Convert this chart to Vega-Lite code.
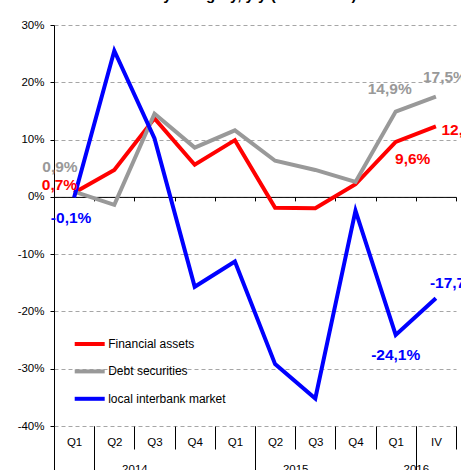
{
  "$schema": "https://vega.github.io/schema/vega-lite/v6.json",
  "width": 402,
  "height": 401,
  "autosize": {"type": "none"},
  "padding": {"left": 54, "top": 25, "right": 5, "bottom": 44},
  "background": "white",
  "title": {"text": "Growth by category, y/y (in % terms)", "fontSize": 15, "fontWeight": "bold", "font": "Liberation Sans", "color": "#000", "anchor": "middle", "frame": "group", "offset": 4, "baseline": "alphabetic", "dx": -28},
  "config": {"view": {"stroke": null}},
  "data": {"values": [
    {"period": "2014-Q1", "series": "Financial assets", "value": 0.7, "label": "0,7%"},
    {"period": "2014-Q2", "series": "Financial assets", "value": 4.7},
    {"period": "2014-Q3", "series": "Financial assets", "value": 13.7},
    {"period": "2014-Q4", "series": "Financial assets", "value": 5.6},
    {"period": "2015-Q1", "series": "Financial assets", "value": 9.9},
    {"period": "2015-Q2", "series": "Financial assets", "value": -1.9},
    {"period": "2015-Q3", "series": "Financial assets", "value": -2.0},
    {"period": "2015-Q4", "series": "Financial assets", "value": 2.2},
    {"period": "2016-Q1", "series": "Financial assets", "value": 9.6, "label": "9,6%"},
    {"period": "2016-IV", "series": "Financial assets", "value": 12.3, "label": "12,3%"},
    {"period": "2014-Q1", "series": "Debt securities", "value": 0.9, "label": "0,9%"},
    {"period": "2014-Q2", "series": "Debt securities", "value": -1.4},
    {"period": "2014-Q3", "series": "Debt securities", "value": 14.5},
    {"period": "2014-Q4", "series": "Debt securities", "value": 8.6},
    {"period": "2015-Q1", "series": "Debt securities", "value": 11.6},
    {"period": "2015-Q2", "series": "Debt securities", "value": 6.3},
    {"period": "2015-Q3", "series": "Debt securities", "value": 4.7},
    {"period": "2015-Q4", "series": "Debt securities", "value": 2.6},
    {"period": "2016-Q1", "series": "Debt securities", "value": 14.9, "label": "14,9%"},
    {"period": "2016-IV", "series": "Debt securities", "value": 17.5, "label": "17,5%"},
    {"period": "2014-Q1", "series": "local interbank market", "value": -0.1, "label": "-0,1%"},
    {"period": "2014-Q2", "series": "local interbank market", "value": 25.5},
    {"period": "2014-Q3", "series": "local interbank market", "value": 10.2},
    {"period": "2014-Q4", "series": "local interbank market", "value": -15.7},
    {"period": "2015-Q1", "series": "local interbank market", "value": -11.3},
    {"period": "2015-Q2", "series": "local interbank market", "value": -29.2},
    {"period": "2015-Q3", "series": "local interbank market", "value": -35.2},
    {"period": "2015-Q4", "series": "local interbank market", "value": -2.4},
    {"period": "2016-Q1", "series": "local interbank market", "value": -24.1, "label": "-24,1%"},
    {"period": "2016-IV", "series": "local interbank market", "value": -17.7, "label": "-17,7%"}
  ]},
  "resolve": {"axis": {"x": "independent", "y": "independent"}},
  "layer": [
    {
      "mark": {"type": "line", "strokeWidth": 4, "strokeJoin": "miter", "strokeCap": "butt"},
      "encoding": {
        "x": {"field": "period", "type": "ordinal", "bandPosition": 0.5,
          "scale": {"type": "band", "domain": ["2014-Q1","2014-Q2","2014-Q3","2014-Q4","2015-Q1","2015-Q2","2015-Q3","2015-Q4","2016-Q1","2016-IV"], "paddingInner": 0, "paddingOuter": 0},
          "axis": {"orient": "bottom", "domain": false, "grid": false, "ticks": true, "tickBand": "extent", "tickColor": "#000", "tickWidth": 1, "tickSize": 23,
            "labelExpr": "split(datum.value,'-')[1]", "labelPadding": -7, "labelBaseline": "middle", "labelFontSize": 11.5, "labelFont": "Liberation Sans", "labelColor": "#000", "labelAngle": 0, "labelOverlap": false, "title": null}},
        "y": {"field": "value", "type": "quantitative",
          "scale": {"domain": [-40, 30], "nice": false, "zero": false},
          "axis": {"values": [-40,-30,-20,-10,0,10,20,30], "labelExpr": "datum.value + '%'", "grid": true, "gridColor": "#a6a6a6", "gridDash": [4,3], "gridWidth": 1,
            "domain": true, "domainColor": "#000", "domainWidth": 1, "ticks": true, "tickColor": "#000", "tickSize": 4, "labelPadding": 6,
            "labelFontSize": 11.5, "labelFont": "Liberation Sans", "labelColor": "#000", "title": null}},
        "color": {"field": "series", "type": "nominal",
          "scale": {"domain": ["Financial assets", "Debt securities", "local interbank market"], "range": ["#ff0000", "#999999", "#0000ff"]},
          "legend": {"orient": "none", "legendX": 18.7, "legendY": 302, "title": null, "symbolType": "stroke", "symbolStrokeWidth": 4, "symbolSize": 900,
            "labelFontSize": 12, "labelFont": "Liberation Sans", "labelColor": "#000", "rowPadding": 2.4, "labelOffset": 1.5, "padding": 0}},
        "order": {"value": null}
      }
    },
    {
      "transform": [{"filter": "datum.series === 'Debt securities' && datum.period === '2014-Q1'"}],
      "mark": {"type": "text", "fontSize": 15.5, "fontWeight": "bold", "font": "Liberation Sans", "align": "right", "baseline": "middle", "dx": 3.5, "dy": -25},
      "encoding": {
        "x": {"field": "period", "type": "ordinal", "bandPosition": 0.5,
          "axis": {"orient": "bottom", "values": ["2014-Q1","2015-Q1","2016-Q1","2016-IV"], "tickBand": "extent", "domain": false, "grid": false, "ticks": true, "tickColor": "#000", "tickWidth": 1, "tickSize": 46,
            "tickOpacity": {"condition": {"test": "datum.value === '2016-IV' && !datum.extra", "value": 0}, "value": 1},
            "labelExpr": "isString(datum.value) && datum.value !== '2016-IV' ? split(datum.value,'-')[0] : ''",
            "labelOffset": {"condition": {"test": "datum.value === '2016-Q1'", "value": 20.1}, "value": 60.3},
            "labelPadding": 0, "labelBaseline": "alphabetic", "labelAlign": "center", "labelFontSize": 11.5, "labelFont": "Liberation Sans", "labelColor": "#000", "labelAngle": 0, "labelOverlap": false, "labelBound": false, "title": null}},
        "y": {"field": "value", "type": "quantitative", "axis": null},
        "text": {"field": "label"},
        "color": {"value": "#999999"}
      }
    },
    {
      "transform": [{"filter": "datum.series === 'Financial assets' && datum.period === '2014-Q1'"}],
      "mark": {"type": "text", "fontSize": 15.5, "fontWeight": "bold", "font": "Liberation Sans", "align": "right", "baseline": "middle", "dx": 3, "dy": -7.5},
      "encoding": {
        "x": {"field": "period", "type": "ordinal", "bandPosition": 0.5,
          "axis": {"orient": "bottom", "offset": -229.1, "domain": true, "domainColor": "#000", "domainWidth": 1, "ticks": true, "tickBand": "extent", "tickSize": 4, "tickColor": "#000", "tickWidth": 1, "labels": false, "grid": false, "title": null}},
        "y": {"field": "value", "type": "quantitative", "axis": null},
        "text": {"field": "label"},
        "color": {"value": "#ff0000"}
      }
    },
    {
      "transform": [{"filter": "datum.series === 'local interbank market' && datum.period === '2014-Q1'"}],
      "mark": {"type": "text", "fontSize": 15.5, "fontWeight": "bold", "font": "Liberation Sans", "align": "center", "baseline": "middle", "dx": -3, "dy": 20.5},
      "encoding": {
        "x": {"field": "period", "type": "ordinal", "bandPosition": 0.5, "axis": null},
        "y": {"field": "value", "type": "quantitative", "axis": null},
        "text": {"field": "label"},
        "color": {"value": "#0000ff"}
      }
    },
    {
      "transform": [{"filter": "datum.series === 'Debt securities' && datum.period === '2016-Q1'"}],
      "mark": {"type": "text", "fontSize": 15.5, "fontWeight": "bold", "font": "Liberation Sans", "align": "center", "baseline": "middle", "dx": -6, "dy": -23},
      "encoding": {
        "x": {"field": "period", "type": "ordinal", "bandPosition": 0.5, "axis": null},
        "y": {"field": "value", "type": "quantitative", "axis": null},
        "text": {"field": "label"},
        "color": {"value": "#999999"}
      }
    },
    {
      "transform": [{"filter": "datum.series === 'Debt securities' && datum.period === '2016-IV'"}],
      "mark": {"type": "text", "fontSize": 15.5, "fontWeight": "bold", "font": "Liberation Sans", "align": "left", "baseline": "middle", "dx": -13, "dy": -20},
      "encoding": {
        "x": {"field": "period", "type": "ordinal", "bandPosition": 0.5, "axis": null},
        "y": {"field": "value", "type": "quantitative", "axis": null},
        "text": {"field": "label"},
        "color": {"value": "#999999"}
      }
    },
    {
      "transform": [{"filter": "datum.series === 'Financial assets' && datum.period === '2016-IV'"}],
      "mark": {"type": "text", "fontSize": 15.5, "fontWeight": "bold", "font": "Liberation Sans", "align": "left", "baseline": "middle", "dx": 5.5, "dy": 3.5},
      "encoding": {
        "x": {"field": "period", "type": "ordinal", "bandPosition": 0.5, "axis": null},
        "y": {"field": "value", "type": "quantitative", "axis": null},
        "text": {"field": "label"},
        "color": {"value": "#ff0000"}
      }
    },
    {
      "transform": [{"filter": "datum.series === 'Financial assets' && datum.period === '2016-Q1'"}],
      "mark": {"type": "text", "fontSize": 15.5, "fontWeight": "bold", "font": "Liberation Sans", "align": "center", "baseline": "middle", "dx": 17, "dy": 17},
      "encoding": {
        "x": {"field": "period", "type": "ordinal", "bandPosition": 0.5, "axis": null},
        "y": {"field": "value", "type": "quantitative", "axis": null},
        "text": {"field": "label"},
        "color": {"value": "#ff0000"}
      }
    },
    {
      "transform": [{"filter": "datum.series === 'local interbank market' && datum.period === '2016-Q1'"}],
      "mark": {"type": "text", "fontSize": 15.5, "fontWeight": "bold", "font": "Liberation Sans", "align": "center", "baseline": "middle", "dx": 0, "dy": 20},
      "encoding": {
        "x": {"field": "period", "type": "ordinal", "bandPosition": 0.5, "axis": null},
        "y": {"field": "value", "type": "quantitative", "axis": null},
        "text": {"field": "label"},
        "color": {"value": "#0000ff"}
      }
    },
    {
      "transform": [{"filter": "datum.series === 'local interbank market' && datum.period === '2016-IV'"}],
      "mark": {"type": "text", "fontSize": 15.5, "fontWeight": "bold", "font": "Liberation Sans", "align": "left", "baseline": "middle", "dx": -6, "dy": -15},
      "encoding": {
        "x": {"field": "period", "type": "ordinal", "bandPosition": 0.5, "axis": null},
        "y": {"field": "value", "type": "quantitative", "axis": null},
        "text": {"field": "label"},
        "color": {"value": "#0000ff"}
      }
    }
  ]
}
